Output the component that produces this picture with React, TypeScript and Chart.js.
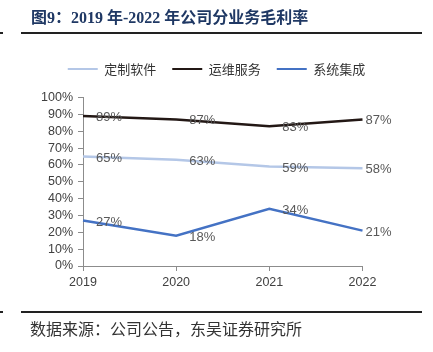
import React, { useEffect, useRef } from "react";
import { Chart, registerables } from "chart.js";

Chart.register(...registerables);

const categories = ["2019", "2020", "2021", "2022"];
const softwareValues = [65, 63, 59, 58];
const maintenanceValues = [89, 87, 83, 87];
const integrationValues = [27, 18, 34, 21];
const seriesNames = ["定制软件", "运维服务", "系统集成"];
const yTicks = [0, 10, 20, 30, 40, 50, 60, 70, 80, 90, 100];

const titleText = "图9：2019 年-2022 年公司分业务毛利率";
const sourceText = "数据来源：公司公告，东吴证券研究所";

const dataLabels = {
  id: "dataLabels",
  afterDatasetsDraw(chart: any) {
    const ctx = chart.ctx;
    ctx.save();
    ctx.font = '13px "Liberation Sans", Arial, sans-serif';
    ctx.fillStyle = "#595959";
    ctx.textBaseline = "middle";
    ctx.textAlign = "left";
    chart.data.datasets.forEach((ds: any, i: number) => {
      const meta = chart.getDatasetMeta(i);
      meta.data.forEach((pt: any, j: number) => {
        const off = j === meta.data.length - 1 ? 3 : 13;
        ctx.fillText(ds.data[j] + "%", pt.x + off, pt.y + 1.5);
      });
    });
    ctx.restore();
  },
};

const legendSpacer = {
  id: "legendSpacer",
  afterInit(chart: any) {
    const l = chart.legend;
    if (!l) return;
    const f = l.fit;
    l.fit = function () {
      f.call(this);
      this.height += 12;
    };
  },
};

export default function App() {
  const ref = useRef<HTMLCanvasElement | null>(null);
  useEffect(() => {
    if (!ref.current) return;
    const axisColor = "#8c8c8c";
    const tickFont = { family: '"Liberation Sans", Arial, sans-serif', size: 12.5 };
    const chart = new Chart(ref.current, {
      type: "line",
      data: {
        labels: categories,
        datasets: [
          {
            label: seriesNames[0],
            data: softwareValues,
            borderColor: "#B4C7E7",
            backgroundColor: "#B4C7E7",
            borderWidth: 2.5,
            pointRadius: 0,
            tension: 0,
          },
          {
            label: seriesNames[1],
            data: maintenanceValues,
            borderColor: "#231815",
            backgroundColor: "#231815",
            borderWidth: 2.5,
            pointRadius: 0,
            tension: 0,
          },
          {
            label: seriesNames[2],
            data: integrationValues,
            borderColor: "#4472C4",
            backgroundColor: "#4472C4",
            borderWidth: 2.5,
            pointRadius: 0,
            tension: 0,
          },
        ],
      },
      options: {
        responsive: false,
        animation: false,
        layout: { padding: { top: 46.5, right: 0, bottom: 56, left: 0 } },
        plugins: {
          tooltip: { enabled: false },
          legend: {
            position: "top",
            labels: {
              boxWidth: 30,
              boxHeight: 2,
              padding: 16,
              color: "#333333",
              font: { family: '"Noto Sans CJK SC", sans-serif', size: 13 },
              generateLabels: (c: any) =>
                Chart.defaults.plugins.legend.labels
                  .generateLabels(c)
                  .map((it: any) => ({ ...it, lineWidth: 0 })),
            },
          },
        },
        scales: {
          x: {
            type: "category",
            offset: false,
            grid: {
              display: true,
              drawOnChartArea: false,
              drawTicks: true,
              tickLength: 5,
              color: axisColor,
            },
            border: { display: true, color: axisColor, width: 1 },
            ticks: { color: "#404040", font: tickFont, padding: 4, maxRotation: 0, autoSkip: false },
            afterFit: (s: any) => {
              s.height = 30;
            },
          },
          y: {
            min: 0,
            max: 100,
            afterBuildTicks: (s: any) => {
              s.ticks = yTicks.map((v) => ({ value: v }));
            },
            grid: {
              display: true,
              drawOnChartArea: false,
              drawTicks: true,
              tickLength: 5,
              color: axisColor,
            },
            border: { display: true, color: axisColor, width: 1 },
            ticks: {
              color: "#404040",
              font: tickFont,
              padding: 5,
              autoSkip: false,
              callback: (v: any) => v + "%",
            },
            afterFit: (s: any) => {
              s.width = 83;
            },
          },
          yRight: {
            position: "right",
            min: 0,
            max: 100,
            display: true,
            grid: { display: false, drawTicks: false },
            border: { display: false },
            ticks: { display: false },
            afterFit: (s: any) => {
              s.width = 70.5;
            },
          },
        },
      },
      plugins: [dataLabels, legendSpacer],
    });
    return () => chart.destroy();
  }, []);

  return (
    <div style={{ position: "absolute", left: 0, top: 0, width: 433, height: 352, background: "#fff" }}>
      <canvas ref={ref} width={433} height={352} style={{ position: "absolute", left: 0, top: 0, width: 433, height: 352 }} />
      <div
        style={{
          position: "absolute",
          left: 31,
          top: 8,
          lineHeight: "20px",
          fontSize: 16,
          fontWeight: "bold",
          color: "#1F3864",
          fontFamily: '"Liberation Serif", "Times New Roman", "Noto Sans CJK SC", serif',
          whiteSpace: "nowrap",
        }}
      >
        {titleText}
      </div>
      <div style={{ position: "absolute", left: 0, top: 32, width: 3, height: 2, background: "#222" }} />
      <div style={{ position: "absolute", left: 21, top: 32, width: 401, height: 2, background: "#222" }} />
      <div style={{ position: "absolute", left: 0, top: 311, width: 3, height: 2, background: "#222" }} />
      <div style={{ position: "absolute", left: 21, top: 311, width: 401, height: 2, background: "#222" }} />
      <div
        style={{
          position: "absolute",
          left: 30,
          top: 318,
          lineHeight: "20px",
          fontSize: 16,
          color: "#333",
          fontFamily: '"Noto Sans CJK SC", sans-serif',
          whiteSpace: "nowrap",
        }}
      >
        {sourceText}
      </div>
    </div>
  );
}
